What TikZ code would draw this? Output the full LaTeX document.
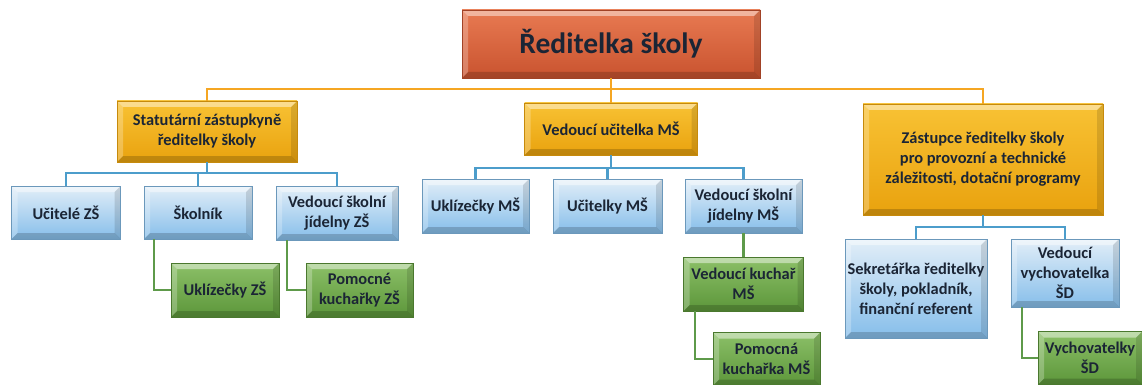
\documentclass[tikz,border=0pt]{standalone}
\usepackage{fontspec}
\setmainfont{Carlito}
\usetikzlibrary{calc}

\definecolor{dirtop}{HTML}{E87A52}
\definecolor{dirbot}{HTML}{C9532F}
\definecolor{goldtop}{HTML}{F8C234}
\definecolor{goldbot}{HTML}{E9A20E}
\definecolor{bluetop}{HTML}{E2EEF8}
\definecolor{bluebot}{HTML}{86BEEA}
\definecolor{greentop}{HTML}{8CC068}
\definecolor{greenbot}{HTML}{5C963A}
\definecolor{txt}{HTML}{1B2535}
\definecolor{orgline}{HTML}{F5A623}
\definecolor{blueline}{HTML}{4C9DCB}
\definecolor{greenline}{HTML}{5E9A4A}

\newcommand{\lvfont}{\fontsize{16.4}{20}\selectfont\bfseries\color{txt}}

\tikzset{
  bevel/.style={path picture={
    \path (path picture bounding box.north west) coordinate (pa)
          (path picture bounding box.north east) coordinate (pb)
          (path picture bounding box.south east) coordinate (pc)
          (path picture bounding box.south west) coordinate (pd);
    \fill[white,opacity=.45] (pa) -- (pb) -- ([shift={(-6pt,-6pt)}]pb) -- ([shift={(6pt,-6pt)}]pa) -- cycle;
    \fill[white,opacity=.25] (pa) -- ([shift={(6pt,-6pt)}]pa) -- ([shift={(6pt,6pt)}]pd) -- (pd) -- cycle;
    \fill[black,opacity=.12] (pb) -- (pc) -- ([shift={(-6pt,6pt)}]pc) -- ([shift={(-6pt,-6pt)}]pb) -- cycle;
    \fill[black,opacity=.18] (pd) -- (pc) -- ([shift={(-6pt,6pt)}]pc) -- ([shift={(6pt,6pt)}]pd) -- cycle;
  }},
  box/.style={bevel, inner sep=2pt, align=center, font=\lvfont, line width=0.6pt},
  dirbox/.style={box, top color=dirtop, bottom color=dirbot, draw=dirbot!80!black,
    font=\fontsize{29.5}{34}\selectfont\bfseries\color{txt}},
  goldbox/.style={box, top color=goldtop, bottom color=goldbot, draw=goldbot!85!black},
  bluebox/.style={box, top color=bluetop, bottom color=bluebot, draw=bluebot!80!black},
  greenbox/.style={box, top color=greentop, bottom color=greenbot, draw=greenbot!80!black},
  orgconn/.style={draw=orgline, line width=2.2pt},
  blueconn/.style={draw=blueline, line width=2.2pt},
  greenconn/.style={draw=greenline, line width=2.2pt}
}

\begin{document}
\begin{tikzpicture}[x=1pt, y=-1pt]
    \useasboundingbox[fill=white] (0,0) rectangle (1142,385);

    % top level
    \node[dirbox, minimum width=298pt, minimum height=68pt] (dir) at (611,44) {Ředitelka školy};

    % second level
    \node[goldbox, minimum width=180pt, minimum height=61pt] (stat) at (207,131.5)
        {Statutární zástupkyně\\ ředitelky školy};
    \node[goldbox, minimum width=173pt, minimum height=52pt] (vum) at (611,129)
        {Vedoucí učitelka MŠ};
    \node[goldbox, minimum width=240pt, minimum height=111pt] (zast) at (983,159.5)
        {Zástupce ředitelky školy\\ pro provozní a technické\\ záležitosti, dotační programy};

    % under the statutory deputy
    \node[bluebox, minimum width=109pt, minimum height=53pt] (ucz) at (66,212.5) {Učitelé ZŠ};
    \node[bluebox, minimum width=108pt, minimum height=53pt] (skoln) at (198,212.5) {Školník};
    \node[bluebox, minimum width=122pt, minimum height=54pt] (vsjz) at (337,213)
        {Vedoucí školní\\ jídelny ZŠ};
    \node[greenbox, minimum width=108pt, minimum height=54pt] (uklz) at (225,290) {Uklízečky ZŠ};
    \node[greenbox, minimum width=107pt, minimum height=54pt] (pkz) at (359.5,290)
        {Pomocné\\ kuchařky ZŠ};

    % under the head teacher MS
    \node[bluebox, minimum width=107pt, minimum height=54pt] (uklm) at (475.5,206) {Uklízečky MŠ};
    \node[bluebox, minimum width=109pt, minimum height=54pt] (ucm) at (607.5,206) {Učitelky MŠ};
    \node[bluebox, minimum width=117pt, minimum height=54pt] (vsjm) at (743.5,206)
        {Vedoucí školní\\ jídelny MŠ};
    \node[greenbox, minimum width=120pt, minimum height=54pt] (vkm) at (743.5,284)
        {Vedoucí kuchař\\ MŠ};
    \node[greenbox, minimum width=107pt, minimum height=53pt] (pkm) at (766.5,359)
        {Pomocná\\ kuchařka MŠ};

    % under the deputy for operations
    \node[bluebox, minimum width=142pt, minimum height=99pt] (sekr) at (916,288.5)
        {Sekretářka ředitelky\\ školy, pokladník,\\ finanční referent};
    \node[bluebox, minimum width=108pt, minimum height=68pt] (vvsd) at (1065,273)
        {Vedoucí\\ vychovatelka\\ ŠD};
    \node[greenbox, minimum width=104pt, minimum height=53pt] (vsd) at (1090,358) {Vychovatelky\\ ŠD};

    % connectors
    \coordinate (busA) at (611,89);
    \coordinate (busB) at (207,173);
    \coordinate (busC) at (611,168);
    \coordinate (busD) at (983,227);

    \draw[orgconn] (dir) -- (vum);
    \draw[orgconn] (stat.north) |- (busA) -| (zast.north);

    \draw[blueconn] (stat.south) -- (busB);
    \draw[blueconn] (ucz.north) |- (busB) -| (vsjz.north);
    \draw[blueconn] (skoln.north) |- (busB);

    \draw[blueconn] (vum.south) -- (busC);
    \draw[blueconn] (uklm.north) |- (busC) -| (vsjm.north);
    \draw[blueconn] (ucm.north) |- (busC);

    \draw[blueconn] (zast.south) -- (busD);
    \draw[blueconn] (sekr.north) |- (busD) -| (vvsd.north);

    \draw[greenconn] ([xshift=10pt]skoln.south west) |- (uklz.west);
    \draw[greenconn] ([xshift=11pt]vsjz.south west) |- (pkz.west);
    \draw[greenconn] (vsjm) -- (vkm);
    \draw[greenconn] ([xshift=12pt]vkm.south west) |- (pkm.west);
    \draw[greenconn] ([xshift=11pt]vvsd.south west) |- (vsd.west);
\end{tikzpicture}
\end{document}
